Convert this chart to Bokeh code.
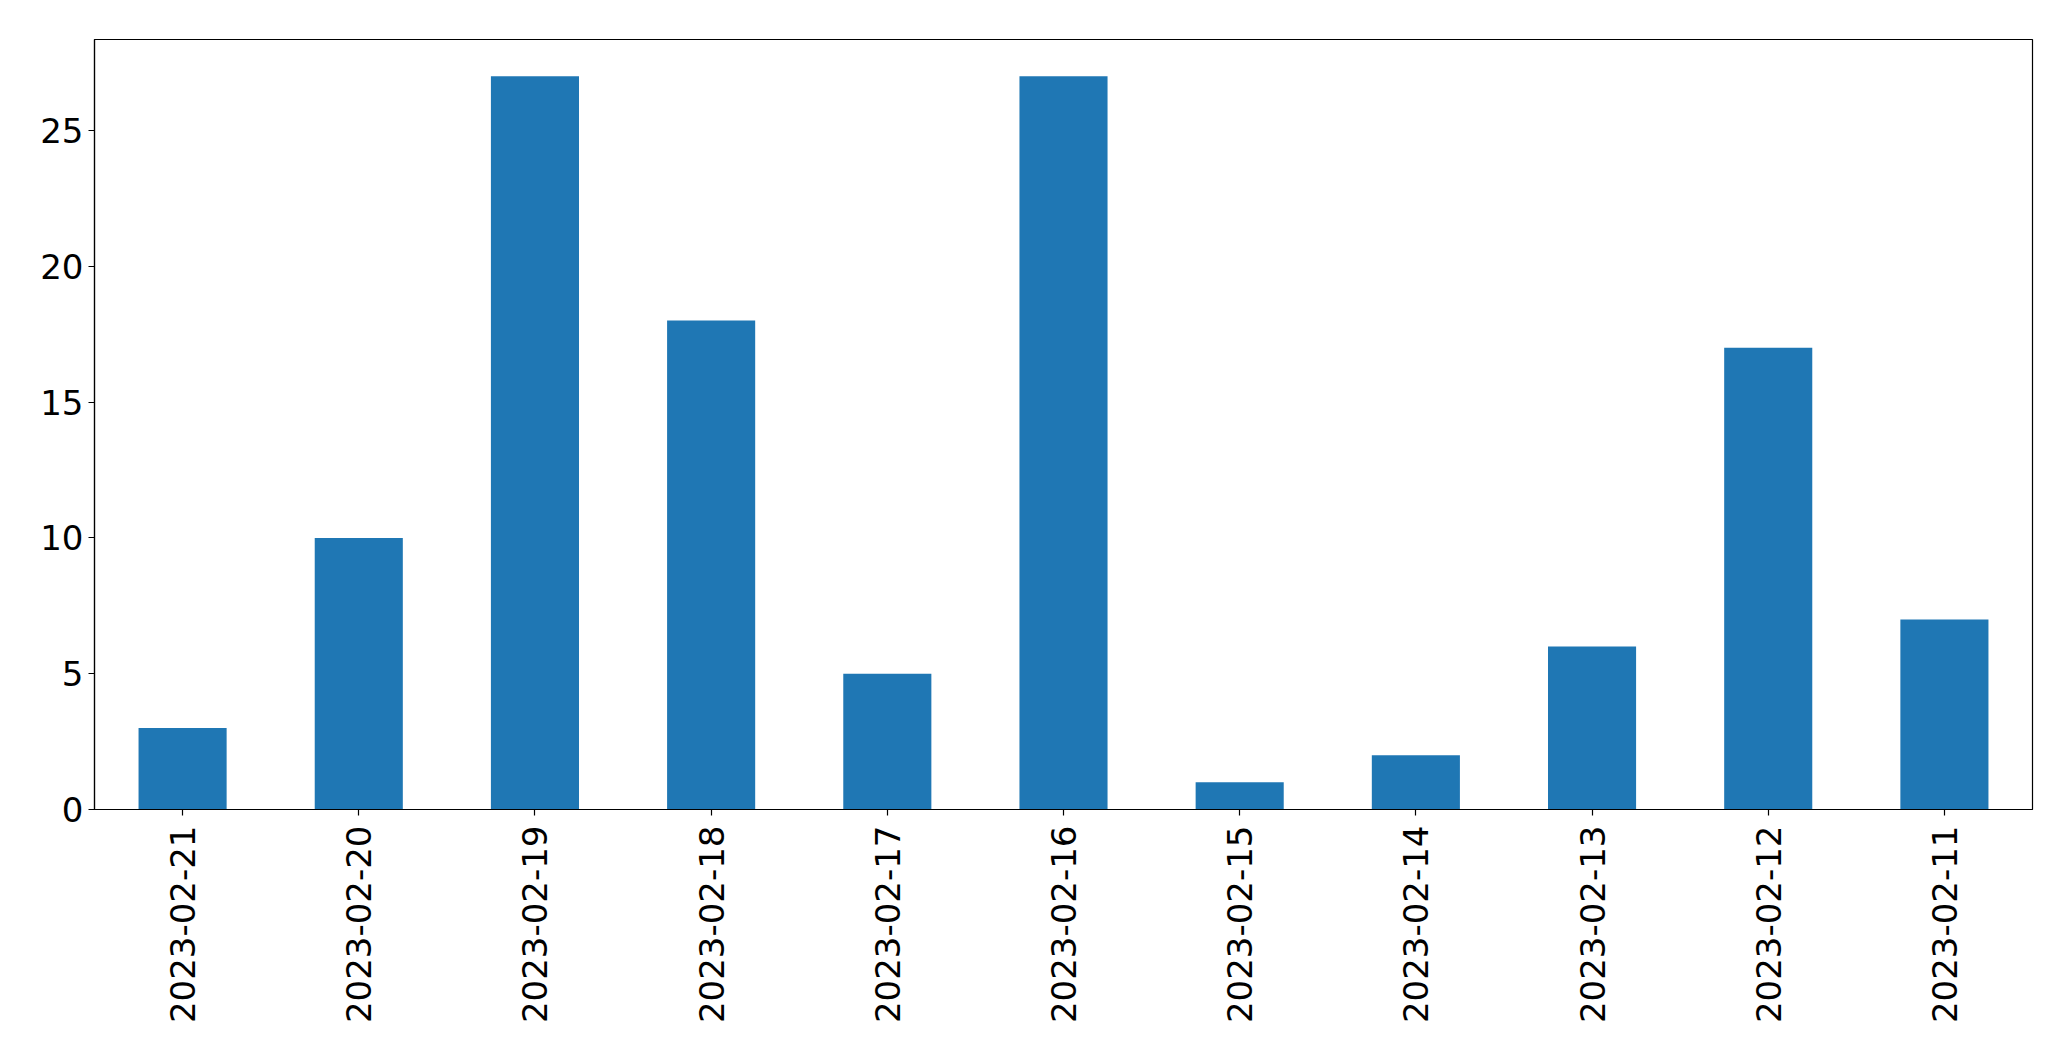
import math
from bokeh.plotting import figure
from bokeh.models import ColumnDataSource, FixedTicker, Range1d
from bokeh.embed import file_html
from bokeh.resources import INLINE

dates = ["2023-02-21", "2023-02-20", "2023-02-19", "2023-02-18", "2023-02-17", "2023-02-16",
         "2023-02-15", "2023-02-14", "2023-02-13", "2023-02-12", "2023-02-11"]
counts = [3, 10, 27, 18, 5, 27, 1, 2, 6, 17, 7]
y_ticks = [0, 5, 10, 15, 20, 25]

src = ColumnDataSource(dict(date=dates, count=counts))

p = figure(x_range=dates, y_range=Range1d(0, max(counts) * 1.05),
           width=2055, height=1045, output_backend="svg", toolbar_location=None,
           min_border_left=94, min_border_right=23, min_border_top=39, min_border_bottom=236)
p.x_range.range_padding = 0
p.vbar(x="date", top="count", width=0.5, source=src, color="#1f77b4", line_color=None)

p.xgrid.visible = False
p.ygrid.visible = False
p.outline_line_color = "black"
p.outline_line_width = 1.2

for ax in (p.xaxis[0], p.yaxis[0]):
    ax.axis_line_color = "black"
    ax.axis_line_width = 1.2
    ax.major_tick_line_color = "black"
    ax.major_tick_line_width = 1.2
    ax.major_tick_out = 6
    ax.major_tick_in = 0
    ax.minor_tick_line_color = None
    ax.major_label_text_font = "DejaVu Sans"
    ax.major_label_text_font_size = "34px"
    ax.major_label_text_color = "black"

p.yaxis.ticker = FixedTicker(ticks=y_ticks)
p.yaxis.major_label_standoff = 5
p.xaxis.major_label_orientation = math.pi / 2
p.xaxis.major_label_standoff = 10

open("out.html", "w").write(file_html(p, INLINE))
